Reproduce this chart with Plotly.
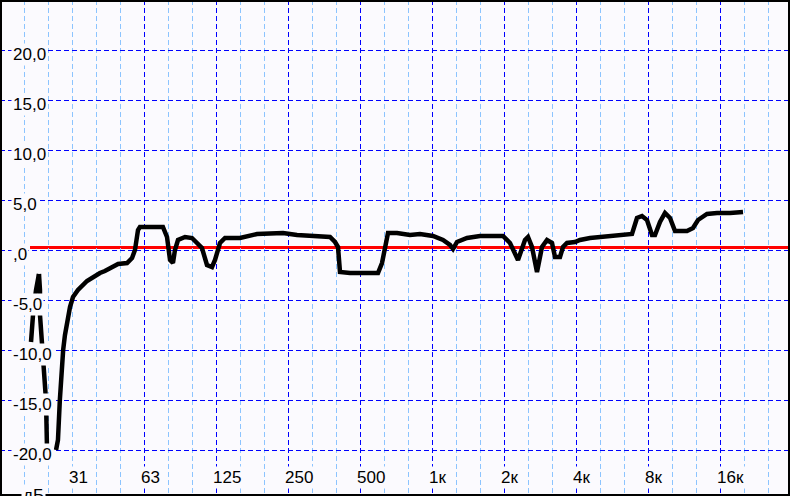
import numpy as np
import plotly.graph_objects as go

# ---- data (frequency in Hz, level in dB) ----
freq_hz = [26.8, 27.3, 27.8, 28.4, 28.7, 29.2, 29.8, 30.65, 31.55, 33.1, 36.1, 38.25,
           40.9, 42.9, 45.05, 48.7, 53.1, 55.7, 57.3, 59.0, 60.1, 75.0, 78.0, 80.3,
           82.6, 84.2, 86.7, 92.75, 99.2, 104.1, 109.2, 114.6, 120.3, 123.8, 129.9,
           136.3, 157.5, 185.5, 216.4, 238.3, 272.6, 330.5, 374.6, 393.0, 404.6,
           412.4, 454.1, 514.7, 594.6, 618.0, 636.1, 654.7, 714.0, 771.1, 809.1,
           890.9, 1009.7, 1111.7, 1189.2, 1224.1, 1272.1, 1400.7, 1587.4, 1980.9,
           2118.9, 2288.6, 2448.1, 2519.8, 2618.8, 2747.9, 2883.4, 3025.6, 3174.8,
           3267.8, 3429.0, 3529.5, 3668.0, 3961.7, 4157.0, 4577.1, 5187.4, 5935.8,
           6858.0, 7196.1, 7551.0, 7923.4, 8314.1, 8557.7, 8979.7, 9422.5, 9887.2,
           10374.7, 11645.2, 12337.7, 12946.1, 14117.8, 15544.6, 17617.0, 19965.8]
level_db = [-20.0, -19.0, -15.0, -11.0, -10.0, -8.5, -7.3, -5.7, -4.7, -4.0, -3.1, -2.7,
            -2.3, -2.1, -1.8, -1.4, -1.3, -0.8, 0.0, 2.0, 2.3, 2.3, 1.3, -1.0,
            -1.3, 0.0, 1.0, 1.3, 1.2, 0.7, 0.2, -1.5, -1.7, -1.0, 0.7,
            1.2, 1.2, 1.6, 1.6, 1.7, 1.5, 1.4, 1.3, 0.8, 0.3,
            -2.2, -2.3, -2.3, -2.3, -1.3, 0.3, 1.7, 1.7, 1.6, 1.5,
            1.6, 1.4, 1.0, 0.5, 0.1, 0.8, 1.2, 1.4, 1.4,
            0.7, -1.0, 1.0, 1.3, 0.3, -2.2, 0.3, 1.0, 0.7,
            -0.7, -0.7, 0.3, 0.7, 0.8, 1.0, 1.2, 1.3, 1.4,
            1.6, 3.2, 3.4, 3.0, 1.5, 1.5, 2.8, 3.7, 3.2,
            1.9, 1.9, 2.2, 3.0, 3.6, 3.7, 3.7, 3.8]

# stray low-frequency trace (two branches)
stray_a_hz = [22.74, 22.10, 21.47, 21.06]
stray_a_db = [-2.4, -4.0, -6.5, -9.2]
stray_b_hz = [22.74, 22.96, 22.96, 23.41, 23.87, 24.33, 24.57]
stray_b_db = [-2.4, -4.0, -6.5, -9.0, -11.5, -15.0, -20.0]

octave_hz = [31.25, 62.5, 125, 250, 500, 1000, 2000, 4000, 8000, 16000]
octave_labels = ["31", "63", "125", "250", "500", "1к", "2к", "4к", "8к", "16к"]
db_ticks = [20, 15, 10, 5, 0, -5, -10, -15, -20]
db_labels = ["20,0", "15,0", "10,0", "5,0", ",0", "-5,0", "-10,0", "-15,0", "-20,0"]
ref_level_db = 0.25
unit_label = "дБ"

# ---- style ----
BG = "#FBFAFE"
DARK = "#0000FF"
LIGHT = "#8CC4FF"
W, H = 790, 496
F_LO = 15.625
X_RANGE = [np.log10(F_LO), np.log10(F_LO * 2 ** (W / 72))]
Y_RANGE = [-24.6, 25.0]
third_oct = [F_LO * 2 ** (k / 3) for k in range(0, 34)]

fig = go.Figure()
fig.add_trace(go.Scatter(x=stray_a_hz, y=stray_a_db, mode="lines",
                         line=dict(color="black", width=4.5), hoverinfo="skip"))
fig.add_trace(go.Scatter(x=stray_b_hz, y=stray_b_db, mode="lines",
                         line=dict(color="black", width=4.5), hoverinfo="skip"))
fig.add_trace(go.Scatter(x=freq_hz, y=level_db, mode="lines",
                         line=dict(color="black", width=4.5), hoverinfo="skip"))

font = dict(family="Arial, Liberation Sans", size=17, color="black")
ann = []
for v, t in zip(db_ticks, db_labels):
    ann.append(dict(x=11 / W, xref="paper", xanchor="left", y=v, yref="y",
                    yanchor="middle", yshift=-4, text=t, showarrow=False,
                    bgcolor=BG, borderpad=1, font=font))
for f, t in zip(octave_hz, octave_labels):
    ann.append(dict(x=np.log10(f), xref="x", xanchor="left", xshift=-5,
                    y=1 - 477 / H, yref="paper", yanchor="middle", text=t,
                    showarrow=False, bgcolor=BG, borderpad=1, font=font))
ann.append(dict(x=21 / W, xref="paper", xanchor="left", y=1 - 484 / H, yref="paper",
                yanchor="top", text=unit_label, showarrow=False, bgcolor=BG,
                borderpad=1, font=font))

shapes = [
    dict(type="line", xref="x", yref="paper", x0=np.log10(octave_hz[0]),
         x1=np.log10(octave_hz[0]), y0=0, y1=1, line=dict(color=DARK, width=2),
         layer="between"),
    dict(type="line", xref="paper", yref="y", x0=30 / W, x1=1, y0=ref_level_db,
         y1=ref_level_db, line=dict(color="#FF0000", width=3), layer="between"),
    dict(type="rect", xref="paper", yref="paper", x0=0, x1=1, y0=0, y1=1,
         line=dict(color="black", width=4), layer="above"),
]

fig.update_layout(
    width=W, height=H, margin=dict(l=0, r=0, t=0, b=0),
    paper_bgcolor=BG, plot_bgcolor=BG, showlegend=False,
    annotations=ann, shapes=shapes,
    xaxis=dict(type="log", range=X_RANGE, tickvals=octave_hz[1:], showticklabels=False,
               ticks="", showgrid=True, gridcolor=DARK, gridwidth=1, griddash="5px,3px",
               zeroline=False, showline=False,
               minor=dict(tickvals=third_oct, showgrid=True, gridcolor=LIGHT,
                          gridwidth=1, griddash="5px,3px", ticks="")),
    yaxis=dict(range=Y_RANGE, tickvals=db_ticks, showticklabels=False, ticks="",
               showgrid=True, gridcolor=DARK, gridwidth=1, griddash="5px,3px",
               zeroline=False, showline=False),
)

fig.write_html("out.html", config={"displayModeBar": False},
               post_script="document.body.style.margin='0';document.body.style.overflow='hidden';")
